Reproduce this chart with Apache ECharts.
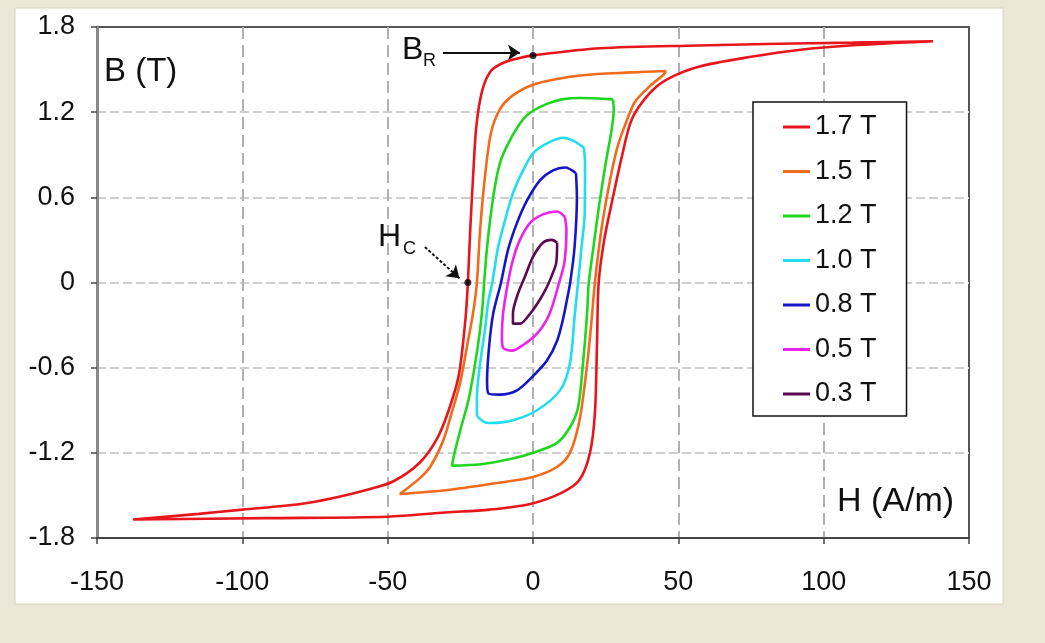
<!DOCTYPE html>
<html><head><meta charset="utf-8">
<script src="https://cdn.jsdelivr.net/npm/echarts@6/dist/echarts.min.js"></script>
<style>html,body{margin:0;padding:0;background:#ebe7d7;} #c{width:1045px;height:643px;}</style>
</head><body><div id="c"></div>
<script>
// ---- data ----
const seriesNames = ['1.7 T','1.5 T','1.2 T','1.0 T','0.8 T','0.5 T','0.3 T'];
const xTicks = [-150,-100,-50,0,50,100,150];
const yTicks = [-1.8,-1.2,-0.6,0,0.6,1.2,1.8];

const loop17Desc = [[137.6,1.70],[110,1.69],[80,1.68],[57,1.67],[23,1.65],[0,1.60],[-5,1.58],[-10,1.55],[-14.5,1.49],[-17.5,1.35],[-19.5,1.10],[-20.6,0.75],[-21.6,0.37],[-22.4,0],[-23.2,-0.25],[-25.5,-0.65],[-29,-0.90],[-33,-1.10],[-39,-1.27],[-48,-1.40],[-57,-1.46],[-69,-1.52],[-80,-1.56],[-100,-1.60],[-115,-1.63],[-137.6,-1.67]];
const loop17Asc = [[-137.6,-1.67],[-92,-1.66],[-50,-1.65],[-30,-1.62],[-15,-1.60],[-1,-1.56],[10,-1.48],[16,-1.39],[19.6,-1.20],[21.3,-0.92],[22,-0.45],[22.6,0],[24.5,0.3],[27.5,0.6],[30.5,0.88],[34,1.15],[40,1.33],[46,1.43],[57,1.52],[75,1.59],[92,1.64],[109,1.67],[137.6,1.70]];

const loop15Desc = [[45.8,1.49],[34,1.48],[17,1.46],[1,1.40],[-6.8,1.32],[-11.4,1.22],[-14.5,1.05],[-16.5,0.75],[-18.2,0.37],[-19.3,0],[-20.5,-0.2],[-22.7,-0.45],[-25,-0.7],[-28,-0.92],[-31,-1.12],[-35.4,-1.30],[-39,-1.38],[-45.8,-1.49]];
const loop15Asc = [[-45.8,-1.49],[-28.6,-1.46],[-11.4,-1.41],[0,-1.37],[8.2,-1.30],[12.7,-1.20],[16,-0.97],[18.5,-0.6],[20,-0.3],[21.3,0],[23.5,0.37],[26.5,0.72],[29,0.95],[31.5,1.1],[35,1.27],[40,1.38],[44.7,1.46],[45.8,1.49]];

const loop12Desc = [[27.5,1.29],[16,1.30],[10,1.29],[5,1.26],[0,1.21],[-3.4,1.15],[-8,1.0],[-11.4,0.84],[-13.7,0.60],[-15.8,0.25],[-16.8,0],[-17.5,-0.2],[-19,-0.45],[-22,-0.81],[-25,-1.04],[-27,-1.20],[-27.9,-1.29]];
const loop12Asc = [[-27.9,-1.29],[-18,-1.28],[-7,-1.24],[1.4,-1.19],[8.3,-1.13],[12.7,-1.02],[15.5,-0.88],[17.2,-0.57],[18.6,-0.22],[19.2,0],[20.8,0.25],[22.8,0.55],[25,0.84],[27,1.07],[27.8,1.22],[27.5,1.29]];

const loop10Desc = [[17.5,0.95],[13.8,1.0],[10.3,1.02],[4.8,0.98],[0,0.91],[-3.4,0.79],[-6.9,0.63],[-9.6,0.44],[-12,0.25],[-14,0],[-15.5,-0.15],[-16.5,-0.33],[-18.2,-0.57],[-19.3,-0.81],[-19.3,-0.93]];
const loop10Asc = [[-19.3,-0.93],[-17,-0.98],[-14.8,-0.99],[-6.9,-0.97],[1.4,-0.90],[9.3,-0.76],[12.7,-0.57],[14.4,-0.22],[15.5,0],[16.7,0.25],[17.8,0.49],[17.9,0.84],[17.5,0.95]];

const loop08Desc = [[14.8,0.77],[11,0.81],[6.9,0.79],[2.4,0.72],[-2,0.58],[-5.5,0.42],[-8.6,0.23],[-11,0],[-13.7,-0.22],[-15.1,-0.45],[-15.8,-0.69],[-15.4,-0.78]];
const loop08Asc = [[-15.4,-0.78],[-11.4,-0.79],[-5.5,-0.76],[0,-0.66],[4.8,-0.55],[8.3,-0.41],[10.3,-0.26],[11.7,-0.12],[12.8,0],[14.3,0.25],[15.1,0.6],[14.8,0.77]];

const loop05Desc = [[11,0.46],[8.3,0.50],[3.4,0.48],[-1,0.42],[-4.5,0.30],[-6.9,0.16],[-8.6,0],[-10.3,-0.22],[-10.7,-0.38],[-10.3,-0.46]];
const loop05Asc = [[-10.3,-0.46],[-7.2,-0.48],[-3.4,-0.44],[1.4,-0.36],[4.8,-0.26],[6.9,-0.15],[9,0],[10.8,0.14],[11.5,0.37],[11,0.46]];

const loop03Desc = [[8.3,0.28],[6.5,0.30],[3.4,0.28],[0,0.18],[-2.8,0.04],[-5.2,-0.08],[-6.9,-0.22],[-6.9,-0.29]];
const loop03Asc = [[-6.9,-0.29],[-4.5,-0.29],[-1,-0.22],[2.4,-0.12],[4.8,-0.03],[6.5,0.05],[8,0.14],[8.3,0.28]];

const remanencePoint = [0, 1.60];
const coercivePoint = [-22.4, 0];
const remanenceArrow = [[-31, 1.62], [-4.5, 1.62]];
const coerciveArrow = [[-37.2, 0.25], [-25.3, 0.03]];

// ---- chart ----
const loops = [
  loop17Desc.concat(loop17Asc), loop15Desc.concat(loop15Asc), loop12Desc.concat(loop12Asc),
  loop10Desc.concat(loop10Asc), loop08Desc.concat(loop08Asc), loop05Desc.concat(loop05Asc),
  loop03Desc.concat(loop03Asc)
];
const colors = ['#e8161c','#f26a1b','#1ed61e','#22dcef','#1616c8','#ee22ee','#5a0a50'];
const FONT = "'Liberation Sans', Arial, sans-serif";

const chart = echarts.init(document.getElementById('c'), null, {renderer:'canvas'});
const series = loops.map((d, i) => ({
  name: seriesNames[i], type: 'line', data: d, showSymbol: false, smooth: 0.3,
  lineStyle: {color: colors[i], width: 2.6}, itemStyle: {color: colors[i]}, z: 10 - i
}));
series.push({
  name: 'annot', type: 'scatter', data: [remanencePoint, coercivePoint], symbolSize: 7,
  itemStyle: {color: '#000'}, z: 20, silent: true,
  markLine: {
    silent: true, animation: false, label: {show: false},
    symbol: ['none', 'arrow'], symbolSize: 12,
    data: [
      [{coord: remanenceArrow[0], lineStyle: {type: 'solid', color: '#111', width: 2}}, {coord: remanenceArrow[1]}],
      [{coord: coerciveArrow[0], lineStyle: {type: [3, 2], color: '#111', width: 2}}, {coord: coerciveArrow[1]}]
    ]
  }
});

const txt = (s, left, top, size) => ({type: 'text', z: 30, left: left, top: top,
  style: {text: s, font: size + "px 'Liberation Sans', Arial, sans-serif", fill: '#111'}});

chart.setOption({
  animation: false,
  backgroundColor: '#ebe7d7',
  graphic: [
    {type: 'rect', z: -10, shape: {x: 15, y: 8, width: 988, height: 596}, style: {fill: '#ffffff', stroke: '#d9d2bb', lineWidth: 1}},
    txt('B (T)', 104, 55, 33),
    txt('H (A/m)', 837, 485, 34),
    txt('B', 402, 34, 32),
    txt('R', 423, 52, 18),
    txt('H', 378, 221, 32),
    txt('C', 403, 240, 18)
  ],
  grid: {left: 97, right: 76, top: 27, bottom: 105, show: true, borderColor: '#555', borderWidth: 2, backgroundColor: 'transparent'},
  legend: {
    orient: 'vertical', left: 753, top: 102, data: seriesNames,
    icon: 'rect', itemWidth: 27, itemHeight: 3, itemGap: 14.5,
    padding: [10, 30, 7, 30], borderColor: '#111', borderWidth: 1.5, backgroundColor: '#fff',
    textStyle: {fontFamily: FONT, fontSize: 27, color: '#111', lineHeight: 30},
    selectedMode: false
  },
  xAxis: {
    type: 'value', min: xTicks[0], max: xTicks[xTicks.length-1], interval: 50,
    axisLine: {show: true, onZero: false, lineStyle: {color: '#444', width: 2}},
    axisTick: {show: true, length: 6, lineStyle: {color: '#444', width: 1.5}},
    axisLabel: {fontFamily: FONT, fontSize: 27, color: '#111', margin: 31},
    splitLine: {show: true, showMinLine: false, showMaxLine: false, lineStyle: {color: '#b0b0b0', width: 2, type: [12, 6]}}
  },
  yAxis: {
    type: 'value', min: yTicks[0], max: yTicks[yTicks.length-1], interval: 0.6,
    axisLine: {show: true, onZero: false, lineStyle: {color: '#888', width: 3}},
    axisTick: {show: true, length: 6, lineStyle: {color: '#444', width: 1.5}},
    axisLabel: {fontFamily: FONT, fontSize: 27, color: '#111', margin: 22,
      formatter: v => Math.abs(v) < 1e-9 ? '0' : v.toFixed(1)},
    splitLine: {show: true, showMinLine: false, showMaxLine: false, lineStyle: {color: '#cfcfcf', width: 2, type: [9, 4]}}
  },
  series: series
});
</script>
</body></html>
